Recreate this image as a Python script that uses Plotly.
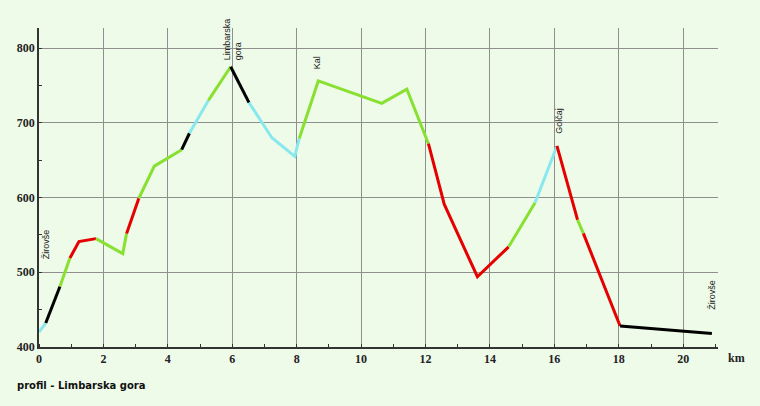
import plotly.graph_objects as go

# profile points (km, elevation m)
km = [0, 0.21, 0.65, 0.96, 1.24, 1.77, 2.6, 2.72, 3.1, 3.58, 4.43, 4.67, 5.26, 5.95,
      6.52, 7.23, 7.94, 8.08, 8.67, 10.64, 11.42, 12.09, 12.58, 13.61, 14.58, 15.4,
      16.08, 16.72, 16.9, 18.04, 20.89]
elev = [420, 432, 481, 519, 541, 545, 525, 552, 599, 642, 664, 686, 730, 775,
        727, 680, 655, 679, 756, 726, 745, 672, 591, 494, 534, 593,
        669, 570, 552, 428, 418]
# surface class of each segment between consecutive points
seg_type = ["c", "k", "g", "r", "r", "g", "g", "r", "g", "g", "k", "c", "g", "k",
            "c", "c", "c", "g", "g", "g", "g", "r", "r", "r", "g", "c", "r", "g",
            "r", "k"]
colors = {"g": "#88e030", "c": "#88e8ee", "r": "#e60000", "k": "#000000"}

place_names = ["Žirovše", "Limbarska<br>gora", "Kal", "Golčaj", "Žirovše"]
place_km = [0.22, 6.02, 8.62, 16.15, 20.89]
place_elev = [515, 781, 769, 683, 447]

x_ticks = [0, 2, 4, 6, 8, 10, 12, 14, 16, 18, 20]
y_ticks = [400, 500, 600, 700, 800]

fig = go.Figure()

# group consecutive segments of the same type
i = 0
n = len(seg_type)
while i < n:
    j = i
    while j + 1 < n and seg_type[j + 1] == seg_type[i]:
        j += 1
    fig.add_trace(go.Scatter(
        x=km[i:j + 2], y=elev[i:j + 2], mode="lines",
        line=dict(color=colors[seg_type[i]], width=3),
        hoverinfo="skip", showlegend=False))
    i = j + 1

for name, xk, ye in zip(place_names, place_km, place_elev):
    fig.add_annotation(x=xk, y=ye, text=name, textangle=-90, showarrow=False,
                       align="left",
                       font=dict(family="Liberation Sans", size=9, color="#222"),
                       xanchor="center", yanchor="bottom")

fig.add_annotation(xref="paper", yref="paper", x=1.012, y=-0.006, text="km",
                   showarrow=False, xanchor="left", yanchor="top",
                   font=dict(family="Liberation Sans Narrow", size=12, color="#222", weight="bold"))
fig.add_annotation(xref="paper", yref="paper", x=-0.036, y=-0.096, text="profil - Limbarska gora",
                   showarrow=False, xanchor="left", yanchor="top",
                   font=dict(family="DejaVu Sans", size=10, color="#111", weight="bold"))

axis_font = dict(family="Liberation Sans Narrow", size=12, color="#222", weight="bold")
fig.update_layout(
    width=760, height=406,
    margin=dict(l=39, r=42, t=28, b=59),
    paper_bgcolor="#eefbe9", plot_bgcolor="#eefbe9",
    xaxis=dict(range=[0, 21.08], tickvals=x_ticks, showgrid=True, gridcolor="#8f8f8f",
               gridwidth=1, showline=True, linecolor="#333", linewidth=1.5,
               zeroline=False, ticks="", tickfont=axis_font,
               minor=dict(dtick=1, ticks="inside", ticklen=3, tickcolor="#333", showgrid=False)),
    yaxis=dict(range=[400, 826.8], tickvals=y_ticks, showgrid=True, gridcolor="#8f8f8f",
               gridwidth=1, showline=True, linecolor="#333", linewidth=1.5,
               zeroline=False, ticks="", tickfont=axis_font,
               minor=dict(dtick=50, ticks="inside", ticklen=3, tickcolor="#333", showgrid=False)),
)

fig.write_html("out.html", config={"displayModeBar": False},
               post_script="document.body.style.margin='0';document.body.style.overflow='hidden';")
